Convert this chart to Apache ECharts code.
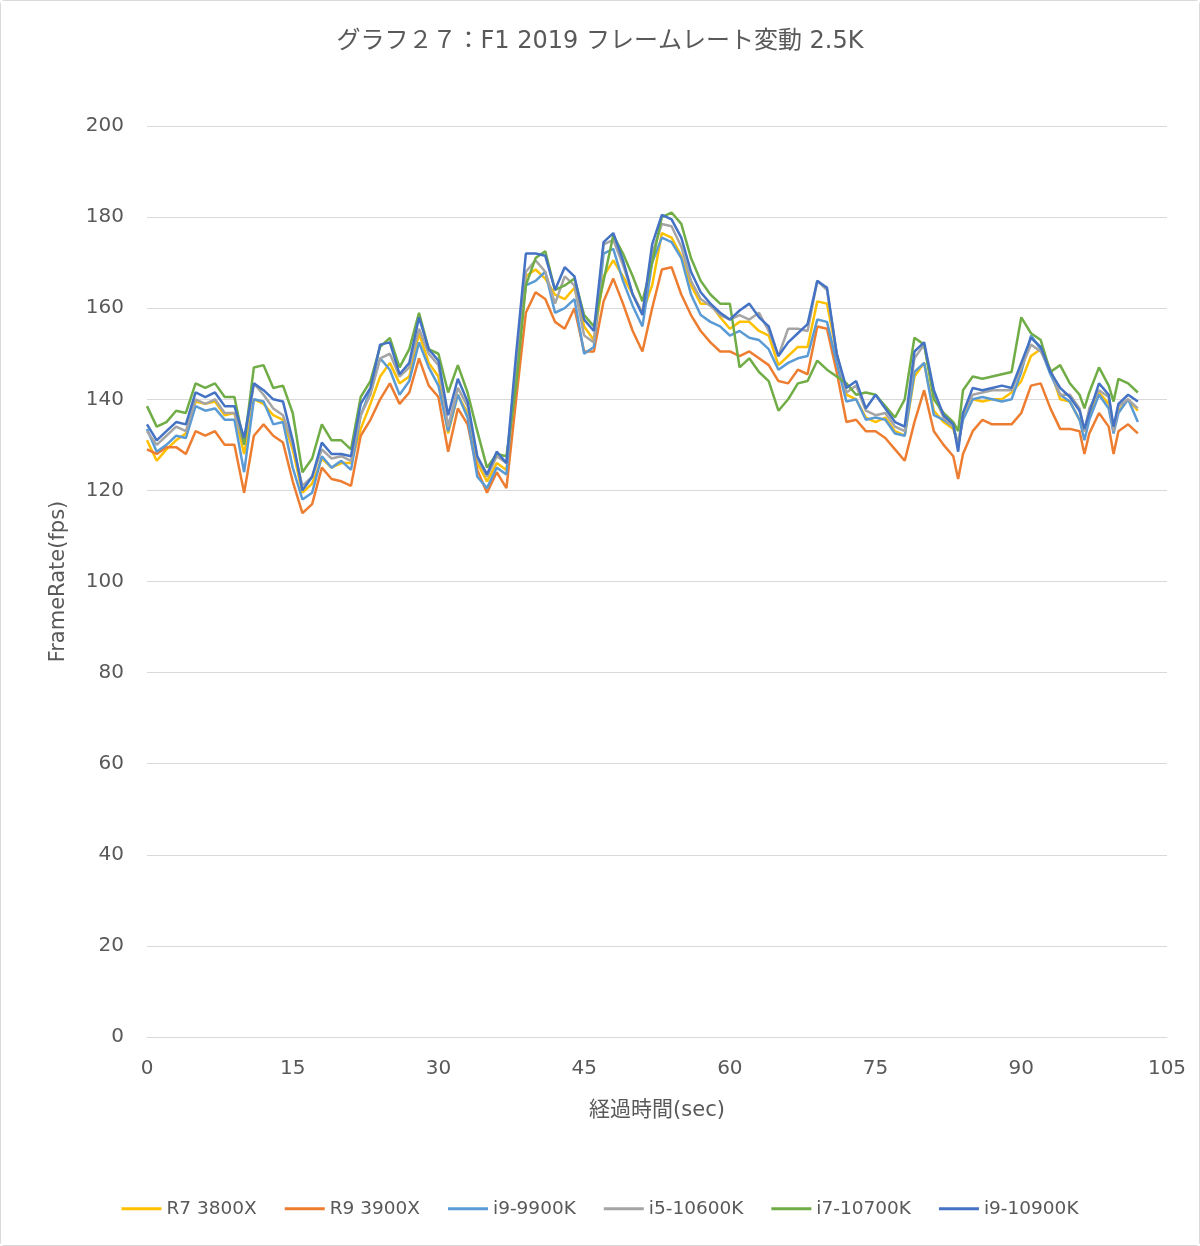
<!DOCTYPE html>
<html>
<head>
<meta charset="utf-8">
<script src="https://cdn.jsdelivr.net/npm/echarts@6/dist/echarts.min.js"></script>
<style>
html,body{margin:0;padding:0;background:#fff;}
#c{width:1200px;height:1246px;box-sizing:border-box;border:1px solid #d9d9d9;border-radius:4px;}
</style>
</head>
<body>
<div id="c"></div>
<script>
const titleText = 'グラフ２７：F1 2019 フレームレート変動 2.5K';
const seriesNames = ['R7 3800X', 'R9 3900X', 'i9-9900K', 'i5-10600K', 'i7-10700K', 'i9-10900K'];
const xTicks = [0, 15, 30, 45, 60, 75, 90, 105];
const yTicks = [0, 20, 40, 60, 80, 100, 120, 140, 160, 180, 200];

const times = [0,1,2,3,4,5,6,7,8,9,
10,11,12,13,14,15,16,17,18,19,
20,21,22,23,24,25,26,27,28,29,
30,31,32,33,34,35,36,37,38,39,
40,41,42,43,44,45,46,47,48,49,
50,51,52,53,54,55,56,57,58,59,
60,61,62,63,64,65,66,67,68,69,
70,71,72,73,74,75,76,77,78,79,
80,81,82,83,83.5,84,85,86,87,88,89,
90,91,92,93,94,95,96,96.5,97,98,99,99.5,100,101,102];

const r7_3800x = [131,126.5,129,131,132.5,139.5,139,139.5,136.5,137,
128,140,139,136.5,135.5,129,119.5,121.5,127,125,
126,126,133.5,139,145,148,143.5,145,154.5,148,
145,132.5,141,137,126,122,126,124.5,146,167,
168.5,166.5,163,162,164.5,156,153,167,170.5,167,
163,159,165,176.5,175.5,171.5,165,161,161,158,
155.5,157,157,155,154,147.5,149.5,151.5,151.5,161.5,
161,150,141,140,136,135,136,133,132,145,
148,137.5,135,133.5,130,136,140,139.5,140,140,141.5,
144,149.5,151,146.5,140,139.5,135.5,133,136,141.5,139,133.5,137.5,140,137.5];

const r9_3900x = [129,128,129.5,129.5,128,133,132,133,130,130,
119.5,132,134.5,132,130.5,122,115,117,125,122.5,
122,121,132,135.5,140,143.5,139,141.5,149,143,
140.5,128.5,138,134.5,124.5,119.5,124,120.5,140,159,
163.5,162,157,155.5,160,150.5,150.5,161.5,166.5,161,
155,150.5,160,168.5,169,163,158.5,155,152.5,150.5,
150.5,149.5,150.5,149,147.5,144,143.5,146.5,145.5,156,
155.5,146,135,135.5,133,133,131.5,129,126.5,135,
142,133,130,127.5,122.5,128,133,135.5,134.5,134.5,134.5,
137,143,143.5,138,133.5,133.5,133,128,132.5,137,134,128,133,134.5,132.5];

const i9_9900k = [133.5,128.5,130,132,131.5,138.5,137.5,138,135.5,135.5,
124,140,139.5,134.5,135,125,118,119.5,127.5,125,
126.5,124.5,136.5,142,149,146.5,141,144,152.5,147,
143,133,141,136,123,120.5,125,123.5,148,165,
166,168,159,160,162,150,151.5,172,173,166,
160.5,156,170,175.5,174.5,171,163,158.5,157,156,
154,155,153.5,153,151,146.5,148,149,149.5,157.5,
157,148,139.5,140,135.5,136,135.5,132.5,132,146,
148,136.5,135.5,134,130,135.5,140,140.5,140,139.5,140,
146,154,151,145.5,141,139.5,135.5,131,135.5,141,138,132.5,137,140,135];

const i5_10600k = [133,130,132,134,133,140,139,140,137,137,
130,143.5,141,138,136.5,130,121,123,129,127,
127.5,126.5,136.5,141,149,150,145,147,155.5,150,
147.5,134,142.5,138.5,127,123,127.5,126,148,168,
170.5,168,161,167,165,154,152.5,174,175,169.5,
163,159,172,178.5,178,173.5,166,162,160.5,158.5,
157.5,158.5,157.5,159,155,149.5,155.5,155.5,155,166,
164,150,141.5,143,137.5,136.5,137,134,133,149,
152,141,136,134,130,137,141,141.5,142,142,142,
147,152,150.5,146.5,141,141,138,133,138,142,140.5,133,138.5,140,138];

const i7_10700k = [138.5,134,135,137.5,137,143.5,142.5,143.5,140.5,140.5,
130,147,147.5,142.5,143,137,124,127,134.5,131,
131,129,140.5,144,151.5,153.5,147,151,159,151,
150,141.5,147.5,141.5,133,125,128,127.5,143,165,
171,172.5,164,165,166.5,158.5,156,166,176,172,
167,161.5,170,180,181,178.5,171,166,163,161,
161,147,149,146,144,137.5,140,143.5,144,148.5,
146.5,145,143.5,141,141.5,141,138.5,136,140,153.5,
152,140,137,135,133,142,145,144.5,145,145.5,146,
158,154.5,153,146,147.5,143.5,141,138,141.5,147,143,139.5,144.5,143.5,141.5];

const i9_10900k = [134.5,131,133,135,134.5,141.5,140.5,141.5,138.5,138.5,
131.5,143.5,142,140,139.5,131,120,123,130.5,128,
128,127.5,139,142.5,152,152.5,145.5,148,158,151,
148.5,136.5,144.5,139.5,127.5,123.5,128.5,126,150,172,
172,171.5,164,169,167,157.5,155,174.5,176.5,170.5,
163,158.5,174,180.5,179.5,175.5,168,163.5,161,159,
157.5,159.5,161,158,156,149.5,152.5,154.5,156.5,166,
164.5,150,142.5,144,138,141,138,135,134,150.5,
152.5,142,136.5,134.5,128.5,137,142.5,142,142.5,143,142.5,
148,153.5,151.5,146,142.5,140.5,137.5,133.5,137,143.5,141,134,139,141,139.5];

const values = [r7_3800x, r9_3900x, i9_9900k, i5_10600k, i7_10700k, i9_10900k];
const colors = ['#FFC000', '#ED7D31', '#5B9BD5', '#A5A5A5', '#70AD47', '#4472C4'];

const font = '"DejaVu Sans", "Noto Sans CJK JP", sans-serif';
const textColor = '#595959';

const chart = echarts.init(document.getElementById('c'), null, {renderer: 'canvas'});
chart.setOption({
  animation: false,
  backgroundColor: '#fff',
  title: {
    text: titleText,
    left: 'center',
    top: 24,
    textStyle: {color: textColor, fontSize: 24, fontWeight: 'normal', fontFamily: font}
  },
  legend: {
    data: seriesNames.map(n => ({name: n, icon: 'rect'})),
    bottom: 22,
    left: 'center',
    itemWidth: 40,
    itemHeight: 3,
    itemGap: 28,
    textStyle: {color: textColor, fontSize: 18.5, fontFamily: font}
  },
  grid: {left: 146, top: 125, width: 1020, height: 911, containLabel: false},
  xAxis: {
    type: 'value',
    min: xTicks[0],
    max: xTicks[xTicks.length - 1],
    interval: 15,
    name: '経過時間(sec)',
    nameLocation: 'middle',
    nameGap: 63,
    nameTextStyle: {color: textColor, fontSize: 21, fontFamily: font},
    axisLine: {show: true, lineStyle: {color: '#d9d9d9', width: 1}},
    axisTick: {show: false},
    splitLine: {show: false},
    axisLabel: {color: textColor, fontSize: 20, fontFamily: font, margin: 22}
  },
  yAxis: {
    type: 'value',
    min: yTicks[0],
    max: yTicks[yTicks.length - 1],
    interval: 20,
    name: 'FrameRate(fps)',
    nameLocation: 'middle',
    nameGap: 78,
    nameRotate: 90,
    nameTextStyle: {color: textColor, fontSize: 21, fontFamily: font},
    axisLine: {show: false},
    axisTick: {show: false},
    splitLine: {show: true, lineStyle: {color: '#d9d9d9', width: 1}},
    axisLabel: {color: textColor, fontSize: 20, fontFamily: font, margin: 23}
  },
  series: seriesNames.map((name, k) => ({
    name: name,
    type: 'line',
    symbol: 'none',
    showSymbol: false,
    smooth: false,
    color: colors[k],
    itemStyle: {color: colors[k]},
    lineStyle: {width: 2.5, color: colors[k]},
    data: times.map((t, i) => [t, values[k][i]]),
    z: 2 + k
  }))
});
</script>
</body>
</html>
